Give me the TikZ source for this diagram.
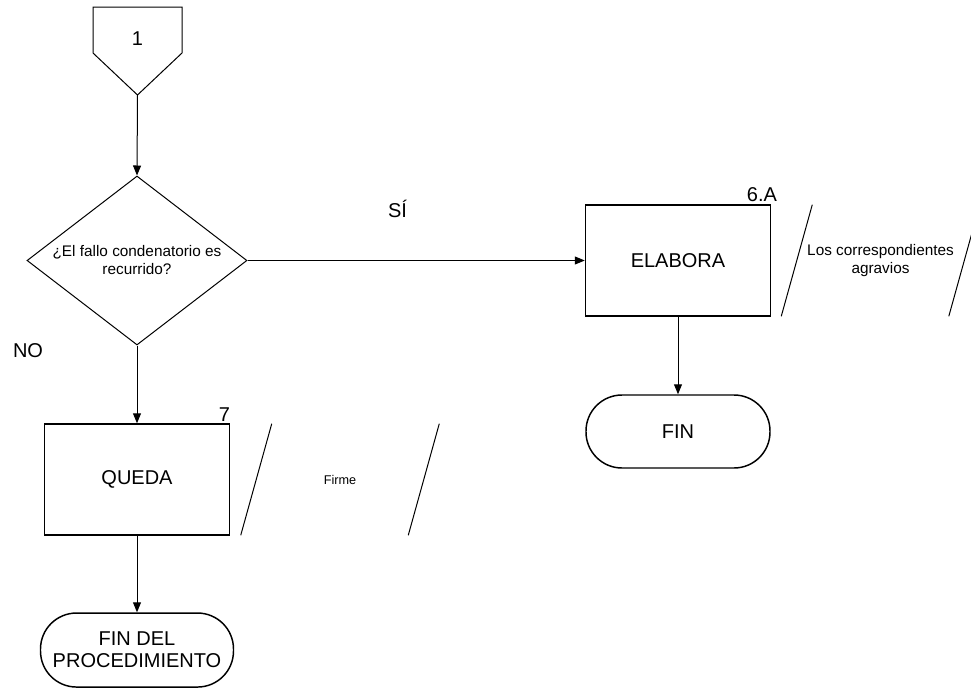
\documentclass[tikz,border=0pt]{standalone}
\usepackage{fontspec}
\setmainfont{Liberation Sans}
\usetikzlibrary{shapes.geometric, arrows.meta, positioning}
\tikzset{
>={Triangle[length=7.5pt, width=6pt]}, % filled arrow heads
every node/.style={font=\fontsize{15}{16.5}\selectfont},
process/.style={draw, line width=1.1pt, minimum width=138.75pt, minimum height=83.25pt}, % activity boxes
terminal/.style={draw, line width=1.1pt, rounded corners=27pt, minimum width=138pt, minimum height=54.75pt, align=center},
decision/.style={draw, diamond, aspect=1.3, line width=0.75pt, minimum width=165pt, minimum height=126.75pt, inner sep=0pt, align=center, font=\fontsize{11.5}{13.5}\selectfont},
note/.style={minimum width=148.5pt, minimum height=83.25pt, align=center, font=\fontsize{11.5}{13.5}\selectfont}, % slanted comment
flow/.style={->, line width=0.75pt},
}
\begin{document}
\begin{tikzpicture}[x=0.75pt, y=-0.75pt]
    \path[use as bounding box, clip] (0,0) rectangle (971,689);

    % off-page connector
    \node (conn) at (137.5,39) {1};
    \coordinate (conntip) at (137.5,95);
    \draw[line width=0.75pt] (93,7) -- (182,7) -- (182,53) -- (conntip) -- (93,53) -- cycle;

    % NO branch
    \node[decision] (dec) at (137,260.5) {¿El fallo condenatorio es\\recurrido?};
    \node[process, below of=dec, node distance=164.25pt] (queda) {QUEDA};
    \node[terminal, below of=queda, node distance=127.9pt, minimum width=144.75pt, minimum height=55.5pt] (finproc) {FIN DEL\\PROCEDIMIENTO};
    \node[note, right of=queda, node distance=152.25pt, font=\fontsize{9.5}{11}\selectfont] (firme) {Firme};

    % SI branch
    \node[process, right of=dec, node distance=405.75pt] (elabora) {ELABORA};
    \node[terminal, below of=elabora, node distance=128.25pt] (fin) {FIN};
    \node[note, right of=elabora, node distance=151.9pt] (agravios) {Los correspondientes\\agravios};

    % step numbers
    \node[anchor=south east, inner sep=0pt] (n7) at ([yshift=1.5pt]queda.north east) {7};
    \node[anchor=south east, inner sep=0pt] (n6a) at ([xshift=4.5pt, yshift=1.5pt]elabora.north east) {6.A};

    % slanted sides of the comments
    \draw[line width=0.75pt] ([xshift=23.25pt]firme.north west) -- (firme.south west)
        (firme.north east) -- ([xshift=-23.25pt]firme.south east);
    \draw[line width=0.75pt] ([xshift=23.25pt]agravios.north west) -- (agravios.south west)
        (agravios.north east) -- ([xshift=-23.25pt]agravios.south east);

    \draw[flow] (conntip) -- (dec.north);
    \draw[flow] (dec.east) -- node[pos=0.445, yshift=39pt] (si) {SÍ} (elabora.west);
    \draw[flow] (dec.south) -- (queda.north);
    \node (no) at (28,351) {NO};
    \draw[flow] (queda.south) -- (finproc.north);
    \draw[flow] (elabora.south) -- (fin.north);
\end{tikzpicture}
\end{document}
